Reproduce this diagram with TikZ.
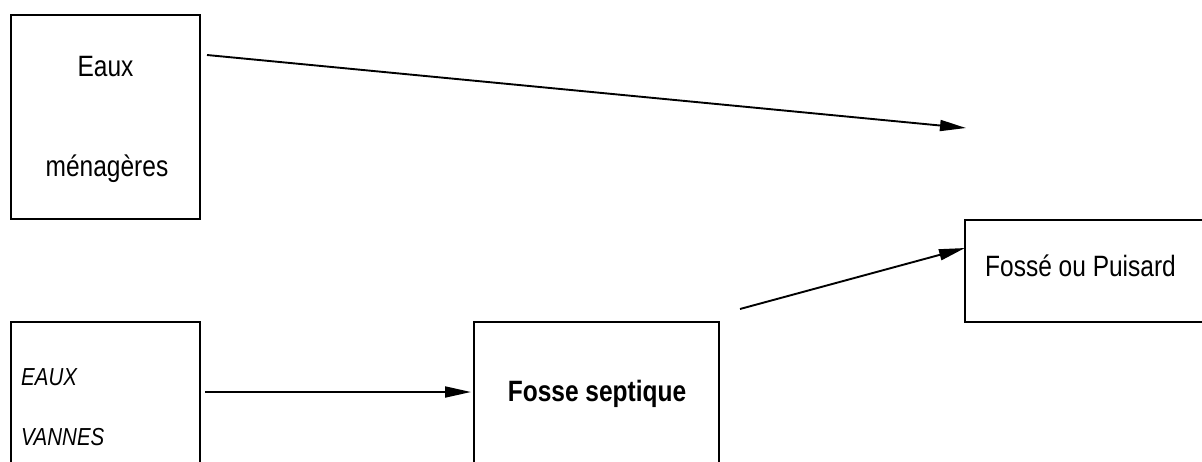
\documentclass[tikz,border=0pt]{standalone}
\usepackage{fontspec}
\setmainfont{Liberation Sans}
\usetikzlibrary{arrows.meta}

% slightly tall lettering
\newcommand{\tall}[1]{\scalebox{1}[1.2]{#1}}

\tikzset{
  box/.style={draw, line width=2pt, rectangle, inner sep=0pt},
  lbl/.style={inner sep=0pt, font=\fontsize{24.5}{29}\selectfont},
  smalllbl/.style={inner sep=0pt, font=\fontsize{20.5}{24}\selectfont\itshape},
  flow/.style={line width=1.9pt, -{Triangle[length=26pt,width=11pt]}}
}

\begin{document}
\begin{tikzpicture}[x=1pt, y=-1pt]
  \useasboundingbox (0,0) rectangle (1202,461);
  \clip (0,0) rectangle (1202,461);

  % boxes (the lower and right ones run past the sheet edge)
  \node[box, minimum width=189pt, minimum height=204pt] (menag)   at (105.5,117) {};
  \node[box, minimum width=189pt, minimum height=178pt] (vannes)  at (105.5,411) {};
  \node[box, minimum width=245pt, minimum height=178pt] (fosse)   at (596.5,411) {};
  \node[box, minimum width=265pt, minimum height=102pt] (puisard) at (1097.5,271) {};

  % labels
  \node[lbl, anchor=base] (t1) at (105.5,76)  {\tall{Eaux}};
  \node[lbl, anchor=base] (t2) at (107,176) {\tall{ménagères}};
  \node[smalllbl, anchor=base west] (t3) at (21,385) {\tall{EAUX}};
  \node[smalllbl, anchor=base west] (t4) at (21,445) {\tall{VANNES}};
  \node[lbl, anchor=base, font=\fontsize{24.5}{29}\selectfont\bfseries] (t5) at (597,401) {\tall{Fosse septique}};
  \node[lbl, anchor=base west] (t6) at (985,276) {\tall{Fossé ou Puisard}};

  % connector end points
  \coordinate (m-out) at (207,55);
  \coordinate (m-in)  at (966,128);
  \coordinate (v-out) at (205,392);
  \coordinate (f-in)  at (471,392);
  \coordinate (f-out) at (740,309);
  \coordinate (p-in)  at (965,248);

  % flows
  \draw[flow] (m-out) -- (m-in);
  \draw[flow] (v-out) -- (f-in);
  \draw[flow] (f-out) -- (p-in);
\end{tikzpicture}
\end{document}
